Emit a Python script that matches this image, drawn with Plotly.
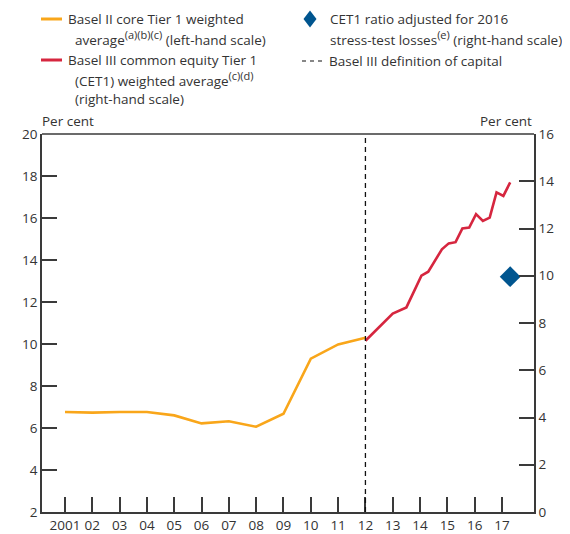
import plotly.graph_objects as go

# ---- data ----
basel2_years = [2001, 2002, 2003, 2004, 2005, 2006, 2007, 2008, 2009, 2010, 2011, 2012]
basel2_values = [6.76, 6.73, 6.76, 6.76, 6.6, 6.22, 6.32, 6.06, 6.68, 9.3, 9.98, 10.3]

cet1_years = [2012.0, 2013.0, 2013.5, 2014.05, 2014.3, 2014.55, 2014.8, 2015.05, 2015.3,
              2015.55, 2015.8, 2016.05, 2016.3, 2016.55, 2016.8, 2017.05, 2017.3]
cet1_values = [7.25, 8.4, 8.66, 10.0, 10.17, 10.67, 11.12, 11.37, 11.42,
               12.0, 12.04, 12.61, 12.32, 12.46, 13.53, 13.38, 13.95]

stress_year = [2017.3]
stress_value = [9.96]

capital_def_year = 2012

x_tick_vals = list(range(2001, 2018))
x_tick_text = ["2001", "02", "03", "04", "05", "06", "07", "08", "09",
               "10", "11", "12", "13", "14", "15", "16", "17"]
left_ticks = [2, 4, 6, 8, 10, 12, 14, 16, 18, 20]
right_ticks = [0, 2, 4, 6, 8, 10, 12, 14, 16]

# ---- styling ----
ORANGE = "#F9A61A"
RED = "#D6263F"
BLUE = "#00558F"
AXIS = "#3a3a3a"
TEXT = "#333333"
FONT = "Open Sans"
FS = 13.5

OFF = 8  # page body margin
W, H = 570 - OFF, 534 - OFF
# plot area in page pixels
L, R, T, B = 42, 534, 134, 512


def px(x):
    return (x - L) / (R - L)


def py(y):
    return (B - y) / (B - T)


def sup(s):
    return f'<sup><span style="font-size:11px">{s}</span></sup>'


fig = go.Figure()

fig.add_trace(go.Scatter(x=basel2_years, y=basel2_values, mode="lines",
                         line=dict(color=ORANGE, width=2.6), yaxis="y", showlegend=False))
fig.add_trace(go.Scatter(x=cet1_years, y=cet1_values, mode="lines",
                         line=dict(color=RED, width=2.6), yaxis="y2", showlegend=False))
fig.add_trace(go.Scatter(x=stress_year, y=stress_value, mode="markers",
                         marker=dict(symbol="diamond", color=BLUE, size=16),
                         yaxis="y2", showlegend=False))

shapes = []
# Basel III definition line
shapes.append(dict(type="line", xref="x", yref="paper", x0=capital_def_year, x1=capital_def_year,
                   y0=0, y1=1, line=dict(color="#111111", width=1.3, dash="5px,4px")))
# top border
shapes.append(dict(type="line", xref="paper", yref="paper", x0=0, x1=1, y0=1, y1=1,
                   line=dict(color=AXIS, width=1.5)))

# legend symbols
shapes.append(dict(type="line", xref="paper", yref="paper", x0=px(41), x1=px(62), y0=py(19), y1=py(19),
                   line=dict(color=ORANGE, width=3)))
shapes.append(dict(type="line", xref="paper", yref="paper", x0=px(41), x1=px(62), y0=py(60), y1=py(60),
                   line=dict(color=RED, width=3)))
shapes.append(dict(type="line", xref="paper", yref="paper", x0=px(302), x1=px(323), y0=py(61), y1=py(61),
                   line=dict(color="#111111", width=1.2, dash="4px,4px")))
cx, cy, hw, hh = 310, 19, 6.5, 8.5
shapes.append(dict(type="path", xref="paper", yref="paper",
                   path=f"M {px(cx)} {py(cy-hh)} L {px(cx+hw)} {py(cy)} L {px(cx)} {py(cy+hh)} L {px(cx-hw)} {py(cy)} Z",
                   fillcolor=BLUE, line=dict(width=0)))

annotations = []


def label(x, y, text, xanchor="left", size=FS):
    annotations.append(dict(xref="paper", yref="paper", x=px(x), y=py(y), text=text,
                            showarrow=False, xanchor=xanchor, yanchor="middle",
                            font=dict(family=FONT, size=size, color=TEXT)))


label(66, 19, "Basel II core Tier 1 weighted")
label(73, 38, "average" + sup("(a)(b)(c)") + " (left-hand scale)")
label(66, 60, "Basel III common equity Tier 1")
label(73, 79, "(CET1) weighted average" + sup("(c)(d)"))
label(73, 99, "(right-hand scale)")
label(328, 19, "CET1 ratio adjusted for 2016")
label(328, 38, "stress-test losses" + sup("(e)") + " (right-hand scale)")
label(327, 61, "Basel III definition of capital")
label(40, 121, "Per cent")
label(534, 121, "Per cent", xanchor="right")

axis_common = dict(ticks="inside", ticklen=15, tickwidth=1.5, tickcolor=AXIS,
                   showline=True, linecolor=AXIS, linewidth=1.5, showgrid=False,
                   zeroline=False, automargin=False, tickfont=dict(size=FS, color=TEXT))

fig.update_layout(
    width=W, height=H,
    margin=dict(l=L - OFF, r=570 - R, t=T - OFF, b=534 - B, pad=0),
    paper_bgcolor="white", plot_bgcolor="white",
    font=dict(family=FONT, size=FS, color=TEXT),
    shapes=shapes, annotations=annotations,
    xaxis=dict(range=[2000.158, 2018.172], tickvals=x_tick_vals, ticktext=x_tick_text,
               **axis_common),
    yaxis=dict(range=[2, 20], tickvals=left_ticks, **axis_common),
    yaxis2=dict(range=[0, 16], tickvals=right_ticks, overlaying="y", side="right",
                **axis_common),
)

fig.write_html("out.html")
